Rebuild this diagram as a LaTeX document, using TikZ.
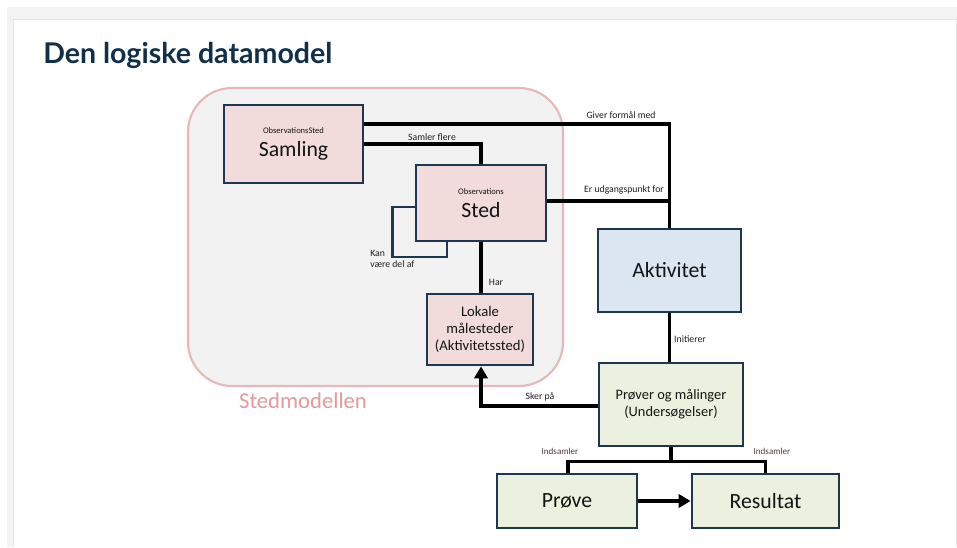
\documentclass[tikz,border=0pt]{standalone}
\usepackage{fontspec}
\setmainfont{Carlito}
\newfontfamily\titlefont{Lato}
\usetikzlibrary{arrows.meta,calc}

\definecolor{pagegray}{HTML}{F3F3F3}
\definecolor{titleblue}{HTML}{10304A}
\definecolor{boxline}{HTML}{1F3650}
\definecolor{pinkfill}{HTML}{F2DCDB}
\definecolor{bluefill}{HTML}{DCE6F1}
\definecolor{greenfill}{HTML}{EBF1DE}
\definecolor{zonefill}{HTML}{F2F2F2}
\definecolor{zoneline}{HTML}{E6B9B8}
\definecolor{zonetext}{HTML}{E29A9A}
\definecolor{labeltext}{HTML}{1E1E1E}
\definecolor{browntext}{HTML}{4E3E38}

\tikzset{
  box/.style 2 args={draw=boxline, line width=2.1pt, rectangle,
    minimum width=#1*0.75pt, minimum height=#2*0.75pt, inner sep=0pt,
    align=center, text=black!92},
  bigtxt/.style={font=\fontsize{16.3}{17.6}\selectfont},
  midtxt/.style={font=\fontsize{11}{13}\selectfont},
  conn/.style={draw=black, line width=2.6pt},
  selfloop/.style={draw=boxline, line width=2.1pt},
  elabel/.style={font=\fontsize{7.3}{8.5}\selectfont, text=labeltext, inner sep=0pt},
  inlabel/.style={font=\fontsize{6.8}{8}\selectfont, text=browntext, inner sep=0pt},
  tip/.style={-{Triangle[length=9pt,width=10pt]}}
}
\newcommand{\smalltag}[1]{{\fontsize{6.4}{7}\selectfont #1}}

\begin{document}
\begin{tikzpicture}[x=0.75pt,y=-0.75pt]
  % page background and white panel
  \useasboundingbox (0,0) rectangle (957,547);
  \fill[white] (0,0) rectangle (957,547);
  \fill[pagegray] (7,7) rectangle (957,547);
  \fill[black!10] (13,19) rectangle (956.5,547);
  \fill[white] (14,20) rectangle (955.5,547);

  % title
  \node[anchor=base west, inner sep=0pt, text=titleblue,
        font=\titlefont\bfseries\fontsize{21.4}{24}\selectfont] (title) at (43,63) {Den logiske datamodel};

  % location model zone
  \draw[fill=zonefill, draw=zoneline, line width=1.6pt, rounded corners=33pt]
    (188,88) rectangle (563,386);
  \node[font=\fontsize{17}{20}\selectfont, text=zonetext, anchor=base, inner sep=0pt] (zone) at (303,408) {Stedmodellen};

  % entity boxes
  \node[box={139}{78}, fill=pinkfill, bigtxt] (samling) at (293.5,144)
    {\smalltag{ObservationsSted}\\Samling};
  \node[box={130}{76}, fill=pinkfill, bigtxt] (sted) at (481,203)
    {\smalltag{Observations}\\Sted};
  \node[box={106}{71}, fill=pinkfill, midtxt] (lokale) at (480,329.5)
    {Lokale\\målesteder\\(Aktivitetssted)};
  \node[box={143}{83}, fill=bluefill, bigtxt] (aktivitet) at (669.5,270.5) {Aktivitet};
  \node[box={144}{83}, fill=greenfill, font=\fontsize{10.8}{12.8}\selectfont] (prover) at (671,404.5)
    {Prøver og målinger\\(Undersøgelser)};
  \node[box={140}{54}, fill=greenfill, bigtxt] (prove) at (567,501) {Prøve};
  \node[box={147}{54}, fill=greenfill, bigtxt] (resultat) at (765.5,501) {Resultat};

  % connectors
  \draw[conn] ([yshift=15pt]samling.east) -| (aktivitet.north);
  \draw[conn] (samling.east) -| (sted.north);
  \draw[conn] ([yshift=1.5pt]sted.east) -- ([yshift=1.5pt]sted.east -| aktivitet.north);
  \draw[conn] (sted.south) -- (sted.south |- lokale.north);
  \draw[selfloop] ([yshift=-3pt]sted.west) -| ++(-22,50) -| ([xshift=-25.5pt]sted.south);
  \draw[conn] (aktivitet.south) -- (aktivitet.south |- prover.north);
  \draw[conn, tip] ([yshift=-1.1pt]prover.west) -| ([xshift=0.75pt]lokale.south);
  \draw[conn] (prover.south) -- ++(0,14) coordinate (split);
  \draw[conn] ([xshift=0.75pt]prove.north) |- (split) -| (resultat.north);
  \draw[conn, tip] (prove.east) -- (resultat.west);

  % connector labels
  \node[elabel] (lgiver) at (621,115) {Giver formål med};
  \node[elabel] (lsamler) at (432,137) {Samler flere};
  \node[elabel] (ler) at (624,190) {Er udgangspunkt for};
  \node[elabel, anchor=north west, align=left] (lkan) at (370,250) {Kan\\være del af};
  \node[elabel] (lhar) at (496,282) {Har};
  \node[elabel] (linit) at (690,339) {Initierer};
  \node[elabel] (lsker) at (540,397) {Sker på};
  \node[inlabel] (lind1) at (560,451) {Indsamler};
  \node[inlabel] (lind2) at (772,451) {Indsamler};
\end{tikzpicture}
\end{document}
